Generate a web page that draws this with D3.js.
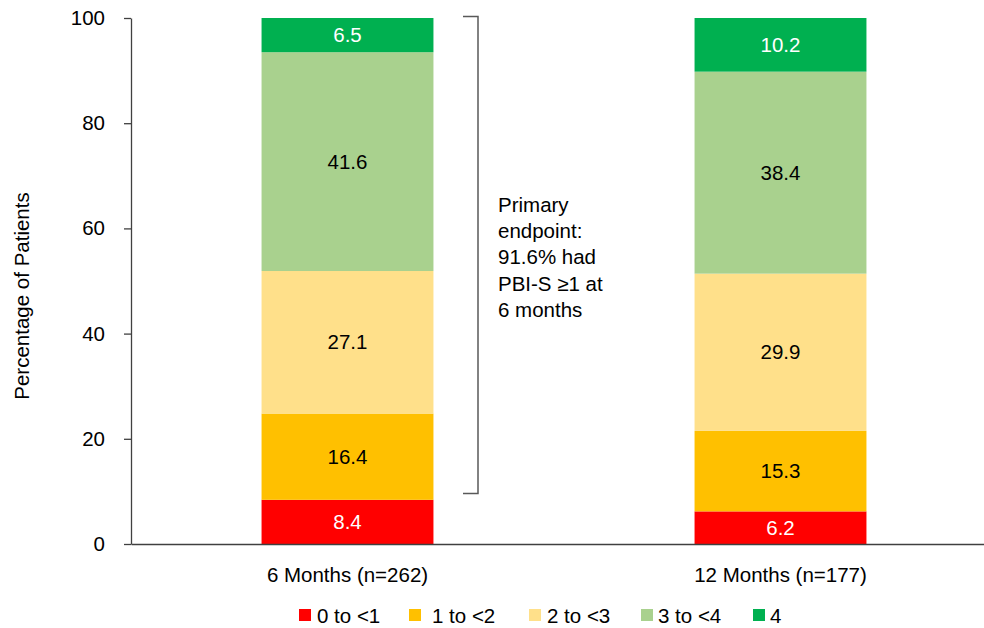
<!DOCTYPE html>
<html><head><meta charset="utf-8">
<script src="https://cdn.jsdelivr.net/npm/d3@7"></script>
<style>body{margin:0;background:#fff}text{font-family:"Liberation Sans",Arial,sans-serif}</style>
</head><body><svg id="c" width="984" height="628"></svg>
<script>
const categories = ["6 Months (n=262)", "12 Months (n=177)"];
const seriesNames = ["0 to <1", "1 to <2", "2 to <3", "3 to <4", "4"];
const s0 = [8.4, 6.2];
const s1 = [16.4, 15.3];
const s2 = [27.1, 29.9];
const s3 = [41.6, 38.4];
const s4 = [6.5, 10.2];
const yTicks = [0, 20, 40, 60, 80, 100];
const colors = ["#FF0000", "#FFC000", "#FFE08A", "#A9D18E", "#00B050"];
const labelColors = ["#fff", "#000", "#000", "#000", "#fff"];
const annotation = ["Primary", "endpoint:", "91.6% had", "PBI-S \u22651 at", "6 months"];
const bracketRange = [9.6, 100.3];

const FS = 20.5;
const series = [s0, s1, s2, s3, s4];
const rows = categories.map((c, i) => {
  const r = {cat: c};
  seriesNames.forEach((n, j) => r[n] = series[j][i]);
  return r;
});
const stacked = d3.stack().keys(seriesNames)(rows);

const svg = d3.select("#c");
const x = d3.scaleBand().domain(categories).range([131, 997]);
const y = d3.scaleLinear().domain([0, 100]).range([544, 18]);
const barW = x.bandwidth() * 0.397;

// y axis
const ya = svg.append("g").attr("transform", "translate(131,0)")
  .call(d3.axisLeft(y).tickValues(yTicks).tickSize(7).tickPadding(19).tickSizeOuter(0));
ya.select(".domain").attr("stroke", "#404040").attr("stroke-width", 1.3);
ya.selectAll(".tick line").attr("stroke", "#404040").attr("stroke-width", 1.3);
ya.selectAll(".tick text").attr("font-size", FS).attr("fill", "#000").attr("font-family", "Liberation Sans, Arial, sans-serif");

// bars
stacked.forEach((s, j) => {
  const g = svg.append("g");
  g.selectAll("rect").data(s).join("rect")
    .attr("x", d => x(d.data.cat) + x.bandwidth() / 2 - barW / 2)
    .attr("width", barW)
    .attr("y", d => y(d[1]))
    .attr("height", d => y(d[0]) - y(d[1]))
    .attr("fill", colors[j]);
  g.selectAll("text").data(s).join("text")
    .attr("x", d => x(d.data.cat) + x.bandwidth() / 2)
    .attr("y", d => (y(d[0]) + y(d[1])) / 2)
    .attr("dy", "0.35em")
    .attr("text-anchor", "middle")
    .attr("font-size", FS)
    .attr("fill", labelColors[j])
    .text(d => d.data[seriesNames[j]].toFixed(1));
});

// x axis
const xa = svg.append("g").attr("transform", "translate(0,544)")
  .call(d3.axisBottom(x).tickSize(0).tickPadding(23));
xa.select(".domain").attr("stroke", "#404040").attr("stroke-width", 1.3);
xa.selectAll(".tick text").attr("font-size", FS).attr("fill", "#000").attr("font-family", "Liberation Sans, Arial, sans-serif");

// y title
svg.append("text").attr("transform", "translate(29,296) rotate(-90)")
  .attr("text-anchor", "middle").attr("font-size", FS).text("Percentage of Patients");

// bracket
const bx = 478;
svg.append("path")
  .attr("d", `M${bx - 15},${y(bracketRange[1])} H${bx} V${y(bracketRange[0])} H${bx - 15}`)
  .attr("fill", "none").attr("stroke", "#595959").attr("stroke-width", 1.5);

// annotation
svg.append("text").attr("x", 498).attr("y", 212).attr("font-size", FS)
  .selectAll("tspan").data(annotation).join("tspan")
  .attr("x", 498).attr("dy", (d, i) => i === 0 ? 0 : 26.2).text(d => d);

// legend
const legX = [299, 409, 529, 641, 753];
const legTextX = [317, 432, 547, 658, 770];
const lg = svg.append("g");
seriesNames.forEach((n, j) => {
  lg.append("rect").attr("x", legX[j]).attr("y", 609).attr("width", 12).attr("height", 12).attr("fill", colors[j]);
  lg.append("text").attr("x", legTextX[j]).attr("y", 616).attr("dy", "0.35em").attr("font-size", FS).text(n);
});
</script></body></html>
